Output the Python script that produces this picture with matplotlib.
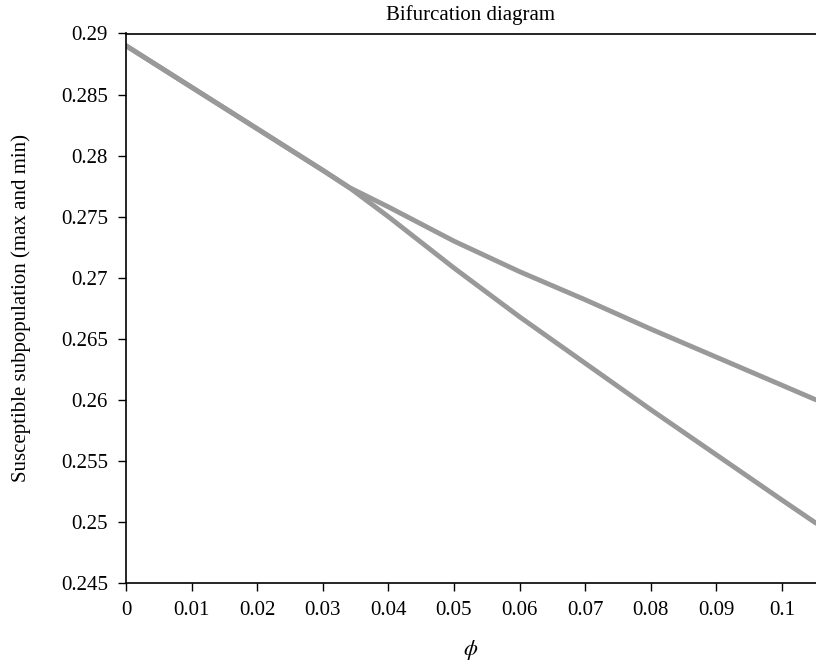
import matplotlib
matplotlib.use('Agg')
from matplotlib import pyplot as plt
from matplotlib.ticker import FuncFormatter

# bifurcation parameter and the max / min of the susceptible subpopulation
phi = [0.0, 0.01, 0.02, 0.03, 0.034, 0.04, 0.05, 0.06, 0.07, 0.08, 0.09, 0.1, 0.1052]
s_max = [0.2890, 0.2856, 0.2822, 0.2788, 0.2774, 0.2758, 0.2730, 0.2705, 0.2682, 0.2658, 0.2635, 0.2612, 0.2600]
s_min = [0.2890, 0.2856, 0.2822, 0.2788, 0.2774, 0.2750, 0.2708, 0.2668, 0.2630, 0.2592, 0.2555, 0.2518, 0.2499]

x_ticks = [0, 0.01, 0.02, 0.03, 0.04, 0.05, 0.06, 0.07, 0.08, 0.09, 0.1]
y_ticks = [0.245, 0.25, 0.255, 0.26, 0.265, 0.27, 0.275, 0.28, 0.285, 0.29]

plt.rcParams['font.family'] = ['Liberation Serif', 'DejaVu Serif']
plt.rcParams['mathtext.fontset'] = 'stix'
plt.rcParams['font.size'] = 15

fig = plt.figure(figsize=(8.16, 6.67), dpi=100)
ax = fig.add_axes([126 / 816, 1 - 583 / 667, 1 - 126 / 816, (583 - 33.5) / 667])

ax.plot(phi, s_max, color='#999999', linewidth=3.5, solid_capstyle='round')
ax.plot(phi, s_min, color='#999999', linewidth=3.5, solid_capstyle='round')

ax.set_xlim(0, 0.1052)
ax.set_ylim(0.245, 0.29)
ax.set_xticks(x_ticks)
ax.set_yticks(y_ticks)
fmt = FuncFormatter(lambda v, p: '%g' % round(v, 4))
ax.xaxis.set_major_formatter(fmt)
ax.yaxis.set_major_formatter(fmt)
ax.tick_params(direction='out', length=6, width=1, colors='black')
ax.tick_params(axis='y', pad=7)
ax.tick_params(axis='x', pad=7)

ax.spines['right'].set_visible(False)
for side in ('left', 'bottom', 'top'):
    ax.spines[side].set_linewidth(1.2)

ax.set_title('Bifurcation diagram', fontsize=15, pad=10)
ax.set_xlabel(r'$\phi$', fontsize=16)
ax.set_ylabel('Susceptible subpopulation (max and min)', fontsize=15)
ax.xaxis.set_label_coords(0.5, -0.1)
ax.yaxis.set_label_coords(-0.138, 0.5)

plt.savefig('out.png', dpi=100)
